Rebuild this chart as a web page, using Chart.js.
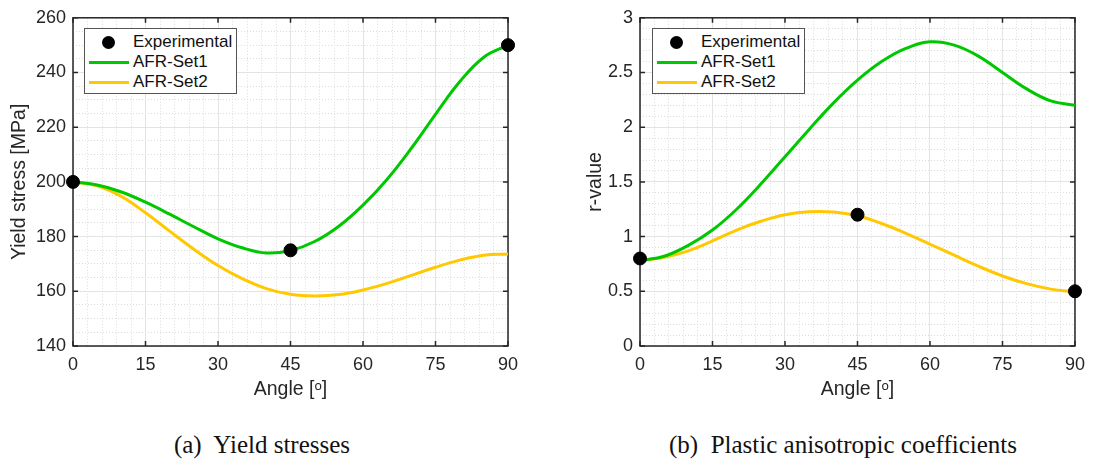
<!DOCTYPE html>
<html>
<head>
<meta charset="utf-8">
<script src="https://cdn.jsdelivr.net/npm/chart.js@4.4.1/dist/chart.umd.min.js"></script>
<style>
  body { margin: 0; background: #fff; width: 1093px; height: 461px; position: relative; overflow: hidden; }
  .wrap { position: absolute; top: 0; height: 410px; }
  .legend { position: absolute; top: 28px; width: 151px; height: 64px; border: 1px solid #555; background: #fff;
            font: 17px 'Liberation Sans', Arial, sans-serif; color: #111; }
  .row { position: absolute; left: 0; height: 20px; line-height: 20px; }
  .row span { position: absolute; left: 48px; white-space: nowrap; }
  .dot { position: absolute; left: 17px; top: 4px; width: 13px; height: 13px; border-radius: 50%; background: #000; }
  .ln { position: absolute; left: 4px; top: 9px; width: 40px; height: 3px; }
  .cap { position: absolute; top: 431px; font: 25px 'Liberation Serif', 'Times New Roman', serif; color: #111; white-space: pre; transform: translateX(-50%); }
</style>
</head>
<body>
<div class="wrap" style="left:0;width:546px"><canvas id="chartA" width="546" height="410"></canvas></div>
<div class="wrap" style="left:546px;width:547px"><canvas id="chartB" width="547" height="410"></canvas></div>

<div class="legend" style="left:84px">
  <div class="row" style="top:3px"><div class="dot"></div><span>Experimental</span></div>
  <div class="row" style="top:23px"><div class="ln" style="background:#00c800"></div><span>AFR-Set1</span></div>
  <div class="row" style="top:43px"><div class="ln" style="background:#ffc800"></div><span>AFR-Set2</span></div>
</div>
<div class="legend" style="left:652px">
  <div class="row" style="top:3px"><div class="dot"></div><span>Experimental</span></div>
  <div class="row" style="top:23px"><div class="ln" style="background:#00c800"></div><span>AFR-Set1</span></div>
  <div class="row" style="top:43px"><div class="ln" style="background:#ffc800"></div><span>AFR-Set2</span></div>
</div>

<div class="cap" style="left:262px">(a)  Yield stresses</div>
<div class="cap" style="left:843px">(b)  Plastic anisotropic coefficients</div>

<script>
const angles = [0, 5, 10, 15, 20, 25, 30, 35, 40, 45, 50, 55, 60, 65, 70, 75, 80, 85, 90];
const expAngles = [0, 45, 90];

// (a) yield stresses [MPa]
const yieldExp = [200, 175, 250];
const yieldSet1 = [200, 198.9, 196.3, 192.6, 188.2, 183.6, 179.2, 175.9, 174.0, 174.9, 178.2, 183.8, 191.5, 201.0, 212.3, 224.7, 236.6, 245.6, 250];
const yieldSet2 = [200, 198.6, 194.7, 188.7, 182, 175.4, 169.4, 164.6, 161, 158.9, 158.3, 158.8, 160.5, 162.9, 165.8, 168.8, 171.4, 173.2, 173.6];

// (b) r-values
const rExp = [0.8, 1.2, 0.5];
const rSet1 = [0.78, 0.82, 0.92, 1.06, 1.25, 1.48, 1.73, 1.98, 2.22, 2.43, 2.60, 2.72, 2.78, 2.75, 2.65, 2.50, 2.35, 2.24, 2.20];
const rSet2 = [0.78, 0.81, 0.87, 0.96, 1.06, 1.14, 1.2, 1.228, 1.225, 1.19, 1.12, 1.03, 0.93, 0.83, 0.73, 0.64, 0.57, 0.52, 0.495];

const xTicks = { min: 0, max: 90, step: 15, minor: 3 };
const yieldTicks = { min: 140, max: 260, step: 20, minor: 5 };
const rTicks = { min: 0, max: 3, step: 0.5, minor: 0.1 };

Chart.defaults.font.family = "'Liberation Sans', Arial, sans-serif";
Chart.defaults.font.size = 18;
Chart.defaults.color = '#262626';

function pts(xs, ys) {
    return xs.map((x, i) => ({ x: x, y: ys[i] }));
}

// axis box with inward ticks on all four sides
const boxPlugin = {
    id: 'box',
    beforeDatasetsDraw(chart) {
        const { ctx, chartArea: a, scales } = chart;
        ctx.save();
        ctx.strokeStyle = '#262626';
        ctx.lineWidth = 1.5;
        ctx.strokeRect(a.left, a.top, a.right - a.left, a.bottom - a.top);
        ctx.beginPath();
        scales.x.ticks.forEach(t => {
            const px = scales.x.getPixelForValue(t.value);
            ctx.moveTo(px, a.bottom); ctx.lineTo(px, a.bottom - 5);
            ctx.moveTo(px, a.top); ctx.lineTo(px, a.top + 5);
        });
        scales.y.ticks.forEach(t => {
            const py = scales.y.getPixelForValue(t.value);
            ctx.moveTo(a.left, py); ctx.lineTo(a.left + 5, py);
            ctx.moveTo(a.right, py); ctx.lineTo(a.right - 5, py);
        });
        ctx.stroke();
        ctx.restore();
    }
};

function makeChart(id, expY, set1, set2, yT, yTitle, padLeft, yWidth, padRight, titlePad) {
    const minorGrid = { color: '#dcdcdc', lineWidth: 1, drawTicks: false };
    const config = {
        type: 'scatter',
        data: {
            datasets: [{
                label: 'Experimental',
                data: pts(expAngles, expY),
                backgroundColor: '#000',
                borderColor: '#000',
                pointRadius: 6.5,
                clip: false
            }, {
                label: 'AFR-Set1',
                data: pts(angles, set1),
                showLine: true,
                borderColor: '#00c800',
                borderWidth: 3,
                pointRadius: 0,
                tension: 0.4,
                clip: false
            }, {
                label: 'AFR-Set2',
                data: pts(angles, set2),
                showLine: true,
                borderColor: '#ffc800',
                borderWidth: 3,
                pointRadius: 0,
                tension: 0.4,
                clip: false
            }]
        },
        options: {
            responsive: false,
            animation: false,
            events: [],
            layout: { padding: { top: 17, left: padLeft, right: padRight, bottom: 0 } },
            plugins: { legend: { display: false }, tooltip: { enabled: false } },
            scales: {
                xm: {
                    type: 'linear', position: 'bottom', min: xTicks.min, max: xTicks.max,
                    ticks: { stepSize: xTicks.minor, display: false },
                    grid: minorGrid,
                    border: { display: false, dash: [1, 2] },
                    afterFit: s => { s.height = 0; }
                },
                ym: {
                    type: 'linear', position: 'left', min: yT.min, max: yT.max,
                    ticks: { stepSize: yT.minor, display: false },
                    grid: minorGrid,
                    border: { display: false, dash: [1, 2] },
                    afterFit: s => { s.width = 0; }
                },
                x: {
                    type: 'linear', position: 'bottom', min: xTicks.min, max: xTicks.max,
                    ticks: { stepSize: xTicks.step, padding: 8, maxRotation: 0 },
                    grid: { color: '#e3e3e3', drawTicks: false },
                    border: { display: false },
                    title: { display: true, text: 'Angle [ᵒ]', font: { size: 19.5 }, padding: { top: 0, bottom: 9 } },
                    afterFit: s => { s.height = 64; }
                },
                y: {
                    type: 'linear', position: 'left', min: yT.min, max: yT.max,
                    ticks: { stepSize: yT.step, padding: 7, callback: v => String(v) },
                    grid: { color: '#e3e3e3', drawTicks: false },
                    border: { display: false },
                    title: { display: true, text: yTitle, font: { size: 19.5 }, padding: { top: titlePad, bottom: 0 } },
                    afterFit: s => { s.width = yWidth; }
                }
            }
        },
        plugins: [boxPlugin]
    };
    return new Chart(document.getElementById(id).getContext('2d'), config);
}

makeChart('chartA', yieldExp, yieldSet1, yieldSet2, yieldTicks, 'Yield stress [MPa]', 0, 73, 38, 8);
makeChart('chartB', rExp, rSet1, rSet2, rTicks, 'r-value', 36, 58, 16, 1.5);
</script>
</body>
</html>
